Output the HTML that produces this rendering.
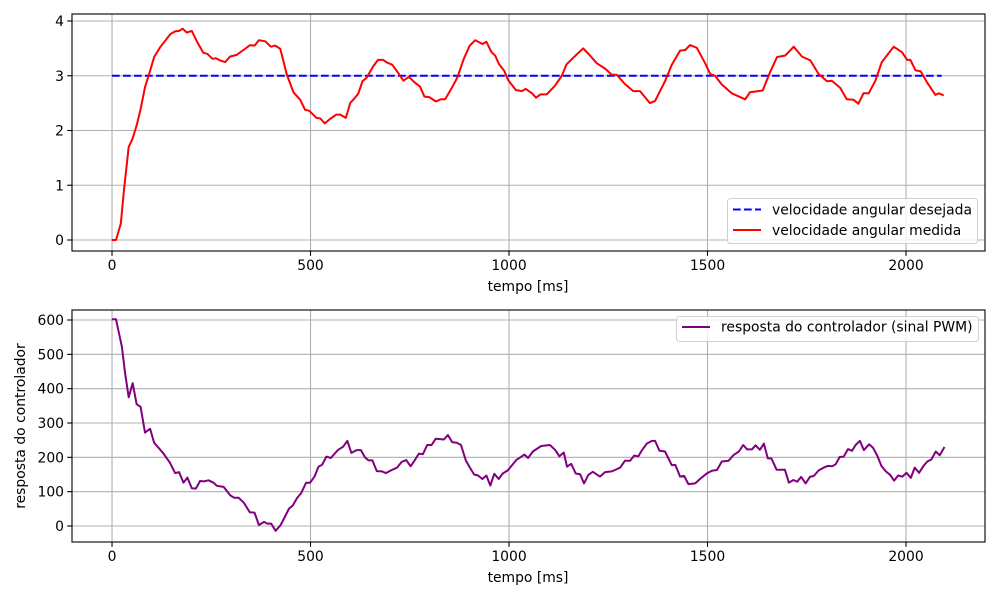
<!DOCTYPE html>
<html><head><meta charset="utf-8"><style>
body{margin:0;background:#fff;}
svg{display:block;font-family:"DejaVu Sans","Liberation Sans",sans-serif;}
</style></head><body>
<svg id="c" width="1000" height="600" viewBox="0 0 1000 600"></svg>
<script>
const xTicks=[0,500,1000,1500,2000];
const topYTicks=[0,1,2,3,4];
const botYTicks=[0,100,200,300,400,500,600];
const setpointT=[0,2090];
const setpointV=[3,3];
const redT=[0,10,22,30,42,51,62,72,83,96,106,121,134,147,159,169,178,188,201,215,230,240,253,262,272,285,297,314,331,348,359,370,386,400,411,424,440,457,474,486,497,515,525,536,549,565,575,589,600,611,620,631,641,658,670,683,693,706,720,734,748,762,776,787,799,816,828,839,857,870,886,901,915,933,943,956,965,975,988,998,1017,1032,1042,1058,1068,1079,1095,1116,1133,1145,1162,1187,1204,1221,1242,1259,1271,1292,1313,1330,1355,1368,1393,1410,1431,1444,1456,1473,1494,1507,1519,1536,1561,1595,1607,1639,1658,1675,1696,1717,1738,1759,1780,1801,1813,1834,1851,1868,1880,1893,1906,1923,1939,1969,1990,2003,2011,2024,2037,2053,2074,2083,2095];
const redV=[0,0,0.3,0.9,1.7,1.84,2.09,2.39,2.79,3.09,3.34,3.52,3.64,3.76,3.81,3.82,3.86,3.79,3.82,3.61,3.42,3.40,3.31,3.32,3.28,3.25,3.35,3.38,3.47,3.56,3.55,3.65,3.63,3.53,3.55,3.49,3.03,2.70,2.56,2.38,2.36,2.23,2.22,2.13,2.21,2.29,2.29,2.23,2.50,2.59,2.67,2.90,2.96,3.17,3.29,3.29,3.24,3.20,3.06,2.91,2.98,2.88,2.80,2.62,2.61,2.53,2.57,2.57,2.79,2.97,3.31,3.55,3.65,3.58,3.62,3.43,3.37,3.21,3.09,2.92,2.74,2.72,2.76,2.68,2.60,2.66,2.66,2.82,3.0,3.21,3.33,3.50,3.37,3.23,3.13,3.02,3.02,2.85,2.72,2.72,2.50,2.54,2.90,3.20,3.46,3.47,3.56,3.51,3.23,3.03,3.0,2.84,2.68,2.57,2.70,2.73,3.07,3.34,3.37,3.53,3.35,3.28,3.03,2.90,2.91,2.78,2.57,2.56,2.49,2.68,2.68,2.91,3.25,3.53,3.43,3.29,3.29,3.10,3.08,2.88,2.65,2.68,2.64];
const pwmT=[0,10,25,33,42,52,62,72,83,96,106,129,146,159,169,180,190,201,211,222,232,243,256,264,281,298,308,319,332,347,359,370,383,391,401,412,425,446,455,467,476,489,499,510,520,529,540,551,569,582,593,603,616,627,637,646,656,667,680,690,701,718,730,741,752,760,773,783,794,805,815,836,846,857,868,879,891,900,912,922,933,943,953,963,974,984,997,1018,1039,1048,1060,1081,1103,1116,1127,1138,1146,1157,1168,1179,1189,1200,1211,1229,1242,1259,1280,1292,1305,1315,1326,1334,1347,1360,1368,1379,1393,1410,1419,1431,1441,1452,1469,1482,1498,1511,1524,1536,1553,1566,1579,1590,1600,1612,1621,1632,1642,1652,1661,1674,1684,1695,1705,1716,1726,1736,1747,1758,1768,1780,1793,1803,1814,1823,1833,1843,1854,1864,1873,1884,1894,1907,1917,1928,1938,1949,1960,1970,1980,1991,2001,2012,2022,2033,2044,2054,2064,2075,2085,2097];
const pwmV=[602,602,522,445,375,416,355,347,272,283,243,212,184,154,157,126,141,110,109,131,130,133,126,117,114,89,82,82,68,40,39,3,12,7,7,-14,3,51,59,83,95,126,126,144,173,178,202,198,221,231,248,213,221,221,200,191,191,160,159,154,161,170,187,192,174,187,211,209,236,236,254,252,265,244,243,236,192,173,150,147,137,147,118,152,137,153,162,192,208,198,217,233,236,222,203,214,173,181,153,151,124,149,158,144,157,159,170,190,190,205,203,219,240,248,248,219,217,177,178,144,146,122,124,138,153,161,163,188,190,207,217,236,223,223,235,222,240,197,197,164,164,164,126,134,129,143,124,143,146,162,170,175,174,180,201,202,224,219,236,248,221,238,228,204,175,159,149,132,147,144,155,140,170,155,175,188,194,217,206,230];

const NS='http://www.w3.org/2000/svg';
const svg=document.getElementById('c');
function mk(tag,attrs,parent){const e=document.createElementNS(NS,tag);for(const k in attrs)e.setAttribute(k,attrs[k]);(parent||svg).appendChild(e);return e;}
const L=72,R=985,FS=13.9,LW=2,DASH='7.7,3.3';
const xS=t=>L+(t+100.8)/(2299.8)*(R-L);
const topY=v=>240-v*54.75;
const botY=v=>526-v*0.343333;

function axes(name,y0,y1,yS,yT){
  const g=mk('g',{});
  
  
  xTicks.forEach(t=>{const x=xS(t);
    mk('line',{x1:x,x2:x,y1:y0,y2:y1,stroke:'#b0b0b0','stroke-width':1.1},g);
    mk('line',{x1:x,x2:x,y1:y1,y2:y1+4.8,stroke:'#000','stroke-width':1.1},g);
    const tx=mk('text',{x:x,y:y1+19,'font-size':FS,'text-anchor':'middle'},g);tx.textContent=t;
    
    
  });
  yT.forEach(v=>{const y=yS(v);
    mk('line',{x1:L,x2:R,y1:y,y2:y,stroke:'#b0b0b0','stroke-width':1.1},g);
    mk('line',{x1:L-4.8,x2:L,y1:y,y2:y,stroke:'#000','stroke-width':1.1},g);
    const tx=mk('text',{x:L-8,y:y+5,'font-size':FS,'text-anchor':'end'},g);tx.textContent=v;
    
    
  });
  return g;
}
function frame(y0,y1){mk('rect',{x:L,y:y0,width:R-L,height:y1-y0,fill:'none',stroke:'#000','stroke-width':1.1});}
function line(T,V,yS,color,dash,name){
  const d=T.map((t,i)=>(i?'L':'M')+xS(t).toFixed(1)+','+yS(V[i]).toFixed(1)).join('');
  const p=mk('path',{d:d,fill:'none',stroke:color,'stroke-width':LW,'stroke-linejoin':'round'});
  if(dash)p.setAttribute('stroke-dasharray',dash);
  
  
}
axes('top-axes',14,251,topY,topYTicks);
line(setpointT,setpointV,topY,'#0000ff',DASH,'setpoint-line');
line(redT,redV,topY,'#ff0000',null,'measured-speed-line');
frame(14,251);
let t1=mk('text',{x:528,y:291,'font-size':FS,'text-anchor':'middle'});t1.textContent='tempo [ms]';


const lg=mk('g',{});


mk('rect',{x:727.5,y:198.5,width:250,height:45,rx:3,fill:'#fff','fill-opacity':0.8,stroke:'#d0d0d0'},lg);
mk('line',{x1:733,x2:761,y1:209.5,y2:209.5,stroke:'#0000ff','stroke-width':LW,'stroke-dasharray':DASH},lg);
mk('line',{x1:733,x2:761,y1:230,y2:230,stroke:'#ff0000','stroke-width':LW},lg);
let a=mk('text',{x:772,y:214.5,'font-size':FS},lg);a.textContent='velocidade angular desejada';


let b=mk('text',{x:772,y:235,'font-size':FS},lg);b.textContent='velocidade angular medida';


axes('bottom-axes',310,542,botY,botYTicks);
line(pwmT,pwmV,botY,'#800080',null,'pwm-line');
frame(310,542);
let t2=mk('text',{x:528,y:582,'font-size':FS,'text-anchor':'middle'});t2.textContent='tempo [ms]';


let t3=mk('text',{x:0,y:0,'font-size':FS,'text-anchor':'middle',transform:'translate(25,426) rotate(-90)'});t3.textContent='resposta do controlador';


const lg2=mk('g',{});


mk('rect',{x:676.5,y:316.5,width:302,height:25,rx:3,fill:'#fff','fill-opacity':0.8,stroke:'#d0d0d0'},lg2);
mk('line',{x1:682,x2:710,y1:327,y2:327,stroke:'#800080','stroke-width':LW},lg2);
let c=mk('text',{x:721,y:331.5,'font-size':FS},lg2);c.textContent='resposta do controlador (sinal PWM)';


</script>
</body></html>
